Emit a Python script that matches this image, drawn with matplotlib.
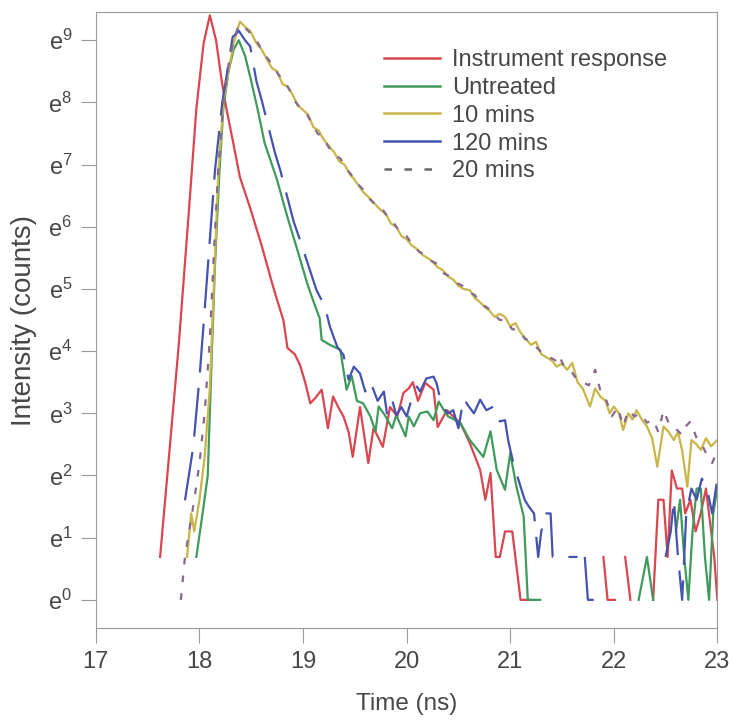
import numpy as np
import matplotlib
matplotlib.use("Agg")
import matplotlib.pyplot as plt
from matplotlib.lines import Line2D

plt.rcParams['font.family'] = ['Liberation Sans', 'DejaVu Sans']
plt.rcParams['mathtext.default'] = 'regular'

nan = np.nan

# ln(counts), nan = zero counts (not drawn on log axis)
t_irf = [17.62, 17.70, 17.80, 17.90, 17.97, 18.04, 18.10, 18.16, 18.21, 18.26,
         18.32, 18.39, 18.49, 18.60, 18.70, 18.75, 18.81, 18.85, 18.92, 18.97,
         19.02, 19.07, 19.12, 19.18, 19.24, 19.29, 19.34, 19.39, 19.44, 19.48,
         19.55, 19.63, 19.68, 19.73, 19.77, 19.84, 19.91, 19.97, 20.02, 20.06,
         20.11, 20.18, 20.26, 20.30, 20.39, 20.45, 20.52, 20.61, 20.71, 20.76,
         20.81, 20.86, 20.90, 20.95, 21.02, 21.10, 21.19, 21.24, 21.90, 21.94,
         22.01, 22.06, 22.11, 22.16, 22.21, 22.38, 22.43, 22.48, 22.52, 22.56,
         22.61, 22.66, 22.69, 22.74, 22.79, 22.84, 22.89, 22.94, 22.97, 23.00]
ln_irf = [0.69, 2.2, 4.1, 6.3, 7.9, 8.95, 9.4, 9.0, 8.4, 7.9,
          7.4, 6.8, 6.3, 5.7, 5.1, 4.82, 4.5, 4.05, 3.95, 3.78,
          3.5, 3.16, 3.25, 3.38, 2.76, 3.27, 3.1, 2.95, 2.7, 2.3,
          3.1, 2.2, 2.76, 2.6, 2.46, 3.1, 2.95, 3.33, 3.4, 3.5,
          3.2, 3.49, 3.38, 2.78, 3.05, 2.95, 2.84, 2.52, 2.09, 1.61,
          2.04, 0.69, 0.69, 1.1, 1.1, 0.0, 0.0, nan, 0.69, 0.0,
          0.0, nan, 0.69, 0.0, nan, 0.0, 1.61, 1.61, 0.69, 2.08,
          1.79, 1.79, 1.39, 1.61, 1.1, 1.39, 1.79, 1.1, 0.69, 0.0]

t_untr = [17.97, 18.03, 18.08, 18.12, 18.15, 18.19, 18.23, 18.28, 18.33, 18.38,
          18.44, 18.49, 18.56, 18.63, 18.70, 18.75, 18.85, 18.95, 19.04, 19.10,
          19.16, 19.18, 19.26, 19.36, 19.42, 19.47, 19.52, 19.58, 19.65, 19.70,
          19.73, 19.79, 19.86, 19.90, 19.99, 20.02, 20.07, 20.13, 20.20, 20.26,
          20.31, 20.36, 20.40, 20.46, 20.52, 20.61, 20.74, 20.81, 20.87, 20.95,
          21.00, 21.06, 21.13, 21.17, 21.29, 21.33, 22.22, 22.24, 22.32, 22.38,
          22.42, 22.56, 22.60, 22.64, 22.68, 22.72, 22.76, 22.80, 22.84, 22.88,
          22.92, 22.96, 23.00]
ln_untr = [0.69, 1.39, 2.0, 4.0, 5.4, 6.8, 7.9, 8.5, 8.85, 9.0,
           8.75, 8.41, 7.9, 7.34, 7.0, 6.75, 6.15, 5.6, 5.09, 4.8,
           4.53, 4.18, 4.1, 4.02, 3.38, 3.6, 3.2, 3.16, 2.95, 2.71,
           3.11, 2.97, 2.76, 2.97, 2.63, 2.95, 2.79, 3.0, 3.03, 2.89,
           3.19, 3.05, 2.95, 2.9, 2.84, 2.57, 2.3, 2.71, 2.09, 1.77,
           2.36, 1.82, 1.34, 0.0, 0.0, nan, nan, 0.0, 0.69, 0.0,
           nan, nan, 1.1, 1.61, 0.69, 0.0, 1.1, 1.79, 1.79, 0.69,
           0.0, 1.39, 1.79]

t_10 = [17.88, 17.92, 17.95, 18.00, 18.05, 18.10, 18.13, 18.18, 18.23, 18.28,
        18.33, 18.39, 18.45, 18.49, 18.55, 18.60, 18.65, 18.70, 18.75, 18.80,
        18.85, 18.89, 18.95, 19.00, 19.05, 19.10, 19.15, 19.20, 19.25, 19.30,
        19.35, 19.40, 19.45, 19.50, 19.58, 19.65, 19.73, 19.80, 19.85, 19.90,
        19.95, 20.00, 20.05, 20.11, 20.15, 20.20, 20.23, 20.30, 20.35, 20.40,
        20.45, 20.50, 20.55, 20.61, 20.66, 20.70, 20.76, 20.80, 20.85, 20.90,
        20.95, 21.00, 21.05, 21.10, 21.15, 21.20, 21.25, 21.30, 21.35, 21.40,
        21.45, 21.50, 21.55, 21.60, 21.65, 21.70, 21.77, 21.82, 21.87, 21.92,
        21.96, 22.00, 22.05, 22.09, 22.14, 22.18, 22.22, 22.27, 22.32, 22.37,
        22.42, 22.48, 22.53, 22.58, 22.62, 22.66, 22.71, 22.75, 22.80, 22.84,
        22.89, 22.94, 23.00]
ln_10 = [0.69, 1.39, 1.1, 1.61, 2.3, 3.4, 4.66, 6.8, 8.0, 8.5,
         8.95, 9.3, 9.2, 9.15, 8.95, 8.85, 8.7, 8.55, 8.5, 8.3,
         8.25, 8.15, 7.95, 7.88, 7.8, 7.6, 7.55, 7.4, 7.3, 7.2,
         7.05, 7.0, 6.85, 6.75, 6.56, 6.45, 6.3, 6.2, 6.05, 6.0,
         5.85, 5.8, 5.7, 5.63, 5.55, 5.5, 5.47, 5.35, 5.3, 5.2,
         5.15, 5.05, 5.0, 4.98, 4.85, 4.8, 4.7, 4.65, 4.55, 4.6,
         4.55, 4.4, 4.45, 4.3, 4.2, 4.1, 4.15, 3.95, 3.9, 3.85,
         3.75, 3.8, 3.7, 3.81, 3.5, 3.4, 3.11, 3.4, 3.27, 3.2,
         3.0, 3.11, 3.0, 2.73, 3.0, 2.9, 3.05, 2.9, 2.79, 2.6,
         2.14, 2.79, 2.7, 2.57, 2.7, 2.4, 1.82, 2.57, 2.5, 2.41,
         2.6, 2.47, 2.57]

t_120 = [17.86, 17.94, 18.00, 18.05, 18.10, 18.15, 18.22, 18.26, 18.32, 18.38,
         18.44, 18.49, 18.55, 18.60, 18.73, 18.78, 18.91, 18.97, 19.13, 19.21,
         19.26, 19.33, 19.39, 19.44, 19.49, 19.55, 19.60, 19.65, 19.72, 19.78,
         19.81, 19.86, 19.90, 19.95, 20.00, 20.05, 20.10, 20.13, 20.19, 20.26,
         20.29, 20.34, 20.40, 20.45, 20.50, 20.55, 20.60, 20.65, 20.71, 20.77,
         20.84, 20.90, 20.95, 20.98, 21.03, 21.10, 21.14, 21.18, 21.23, 21.27,
         21.30, 21.34, 21.39, 21.41, 21.55, 21.65, 21.69, 21.72, 21.75, 21.84,
         21.88, 22.46, 22.50, 22.55, 22.58, 22.62, 22.66, 22.70, 22.75, 22.80,
         22.85, 22.90, 22.95, 23.00]
ln_120 = [1.6, 2.46, 3.57, 4.66, 5.79, 6.91, 8.0, 8.41, 9.05, 9.15,
          9.0, 8.9, 8.34, 8.04, 7.18, 6.91, 6.08, 5.79, 4.98, 4.72,
          4.39, 4.07, 3.94, 3.54, 3.75, 3.64, 3.35, 3.51, 3.2, 3.35,
          3.0, 3.22, 2.97, 3.1, 2.95, 3.24, 3.43, 3.35, 3.56, 3.59,
          3.48, 3.11, 3.0, 3.05, 2.76, 3.24, 3.11, 3.0, 3.22, 3.05,
          3.11, 2.87, 2.89, 2.57, 2.2, 1.82, 1.61, 1.5, 1.39, 0.69,
          1.1, 1.39, 1.39, 0.69, 0.69, 0.69, nan, 0.69, 0.0, 0.0,
          nan, nan, 0.69, 1.1, 1.61, 0.69, 0.0, 1.39, 1.79, 1.61,
          1.95, 1.79, 1.39, 1.95]

t_20 = [17.82, 17.86, 17.90, 17.95, 18.00, 18.05, 18.10, 18.14, 18.18, 18.23,
        18.28, 18.33, 18.38, 18.44, 18.50, 18.55, 18.60, 18.66, 18.71, 18.76,
        18.82, 18.87, 18.93, 18.98, 19.04, 19.09, 19.14, 19.19, 19.24, 19.30,
        19.36, 19.41, 19.46, 19.52, 19.58, 19.64, 19.70, 19.76, 19.82, 19.88,
        19.94, 20.00, 20.06, 20.12, 20.18, 20.24, 20.30, 20.36, 20.42, 20.48,
        20.54, 20.60, 20.66, 20.72, 20.78, 20.84, 20.90, 20.96, 21.02, 21.08,
        21.14, 21.20, 21.26, 21.32, 21.38, 21.44, 21.47, 21.52, 21.58, 21.64,
        21.70, 21.76, 21.82, 21.88, 21.93, 21.98, 22.04, 22.09, 22.14, 22.20,
        22.26, 22.32, 22.38, 22.43, 22.48, 22.54, 22.60, 22.66, 22.70, 22.74,
        22.80, 22.85, 22.89, 22.95, 23.00]
ln_20 = [0.0, 0.69, 1.1, 1.61, 2.2, 3.0, 4.2, 5.6, 6.9, 8.0,
         8.6, 9.0, 9.25, 9.2, 9.1, 9.0, 8.85, 8.7, 8.6, 8.45,
         8.35, 8.2, 8.0, 7.9, 7.8, 7.65, 7.5, 7.45, 7.3, 7.15,
         7.1, 6.95, 6.85, 6.7, 6.6, 6.45, 6.35, 6.3, 6.15, 6.05,
         5.9, 5.85, 5.7, 5.6, 5.55, 5.45, 5.4, 5.25, 5.2, 5.1,
         5.05, 4.95, 4.9, 4.75, 4.7, 4.6, 4.5, 4.5, 4.35, 4.35,
         4.2, 4.15, 4.05, 3.95, 3.9, 3.85, 3.94, 3.75, 3.7, 3.55,
         3.5, 3.45, 3.7, 3.3, 3.2, 2.95, 3.1, 2.79, 3.05, 2.95,
         3.0, 2.85, 2.9, 2.7, 3.05, 2.8, 2.75, 2.65, 2.8, 2.87,
         2.6, 2.5, 2.36, 2.2, 2.4]

labels = ['Instrument response', 'Untreated', '10 mins', '120 mins', '20 mins']
colors = ['#d9464f', '#3f9a5c', '#c9b54a', '#4453ae', '#86698c']

fig = plt.figure(figsize=(7.32, 7.2), dpi=100)
ax = fig.add_axes([0.131, 0.128, 0.849, 0.855])

txt = '#474747'
ax.plot(t_irf, np.exp(ln_irf), color=colors[0], lw=1.6)
ax.plot(t_untr, np.exp(ln_untr), color=colors[1], lw=1.6)
ax.plot(t_10, np.exp(ln_10), color=colors[2], lw=1.6)
ax.plot(t_120, np.exp(ln_120), color=colors[3], lw=1.6, dashes=(22, 7))
ax.plot(t_20, np.exp(ln_20), color=colors[4], lw=1.6, dashes=(3, 5))

ax.set_yscale('log', base=np.e)
ax.set_xlim(17, 23)
ax.set_ylim(np.exp(-0.45), np.exp(9.45))
ax.set_xticks(range(17, 24))
ax.set_yticks([np.exp(n) for n in range(10)])
ax.set_yticklabels(['$e^{%d}$' % n for n in range(10)])
ax.minorticks_off()

for s in ax.spines.values():
    s.set_color('#9a9a9a')
ax.tick_params(direction='out', length=11, color='#9a9a9a',
               labelcolor=txt, labelsize=17, pad=6)
ax.set_xlabel('Time (ns)', fontsize=17.5, color=txt, labelpad=14)
ax.set_ylabel('Intensity (counts)', fontsize=20, color=txt, labelpad=8)

handles = [Line2D([], [], color=c, lw=1.8) for c in colors[:4]]
handles.append(Line2D([], [], color='#666666', lw=1.8, dashes=(3, 5)))
ax.legend(handles, labels, loc='upper left', bbox_to_anchor=(0.429, 0.975),
          frameon=False, fontsize=17, labelcolor=txt, handlelength=2.4,
          handletextpad=0.5, labelspacing=0.25)

fig.savefig('out.png', dpi=100)
